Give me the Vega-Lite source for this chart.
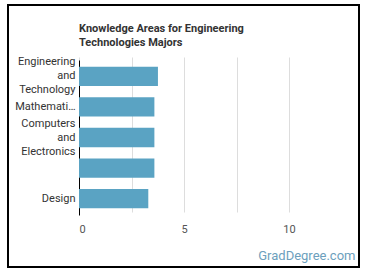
{
  "$schema": "https://vega.github.io/schema/vega-lite/v6.json",
  "width": 351,
  "height": 262,
  "autosize": {"type": "none"},
  "padding": {"left": 8, "top": 5, "right": 11, "bottom": 11},
  "background": "#ffffff",
  "title": {
    "text": ["Knowledge Areas for Engineering", "Technologies Majors"],
    "anchor": "start",
    "frame": "group",
    "orient": "top",
    "offset": 0,
    "dx": 71,
    "dy": 43,
    "font": "Roboto",
    "fontSize": 11,
    "fontWeight": "bold",
    "color": "#333333",
    "lineHeight": 14
  },
  "data": {
    "values": [
      {"area": "Engineering and Technology", "score": 3.76},
      {"area": "Mathematics", "score": 3.59},
      {"area": "Computers and Electronics", "score": 3.59},
      {"area": "", "score": 3.59},
      {"area": "Design", "score": 3.3}
    ]
  },
  "mark": {"type": "bar", "color": "#5aa3c3"},
  "encoding": {
    "y": {
      "field": "area",
      "type": "nominal",
      "sort": null,
      "scale": {"range": [55, 210], "paddingInner": 0.37, "paddingOuter": 0.22},
      "axis": {
        "title": null,
        "offset": -71,
        "domain": true,
        "domainColor": "#000000",
        "domainWidth": 1,
        "ticks": false,
        "grid": false,
        "labelPadding": 4,
        "labelFont": "Roboto",
        "labelFontSize": 11,
        "labelColor": "#333333",
        "labelLimit": 62,
        "labelLineHeight": 14,
        "labelOffset": {"expr": "indexof(datum.value, ' and ') > 0 ? -14 : 0"},
        "labelExpr": "indexof(datum.value, ' and ') > 0 ? split(datum.value, ' ') : datum.value"
      }
    },
    "x": {
      "field": "score",
      "type": "quantitative",
      "scale": {"domain": [0, 12], "range": [71, 323], "nice": false, "zero": true},
      "axis": {
        "title": "GradDegree.com",
        "titleFont": "Roboto",
        "titleFontSize": 13,
        "titleFontWeight": "normal",
        "titleColor": "#6d9fbd",
        "titleAlign": "right",
        "titleBaseline": "middle",
        "titleX": 347,
        "titleY": 40,
        "offset": -52,
        "values": [0, 2.5, 5, 7.5, 10],
        "labelExpr": "datum.value % 5 === 0 ? datum.label : ''",
        "domain": false,
        "ticks": false,
        "grid": true,
        "gridColor": "#dddddd",
        "labelPadding": 8,
        "labelFont": "Roboto",
        "labelFontSize": 11,
        "labelColor": "#555555"
      }
    }
  },
  "config": {
    "view": {"stroke": "#000000", "strokeWidth": 2}
  }
}
